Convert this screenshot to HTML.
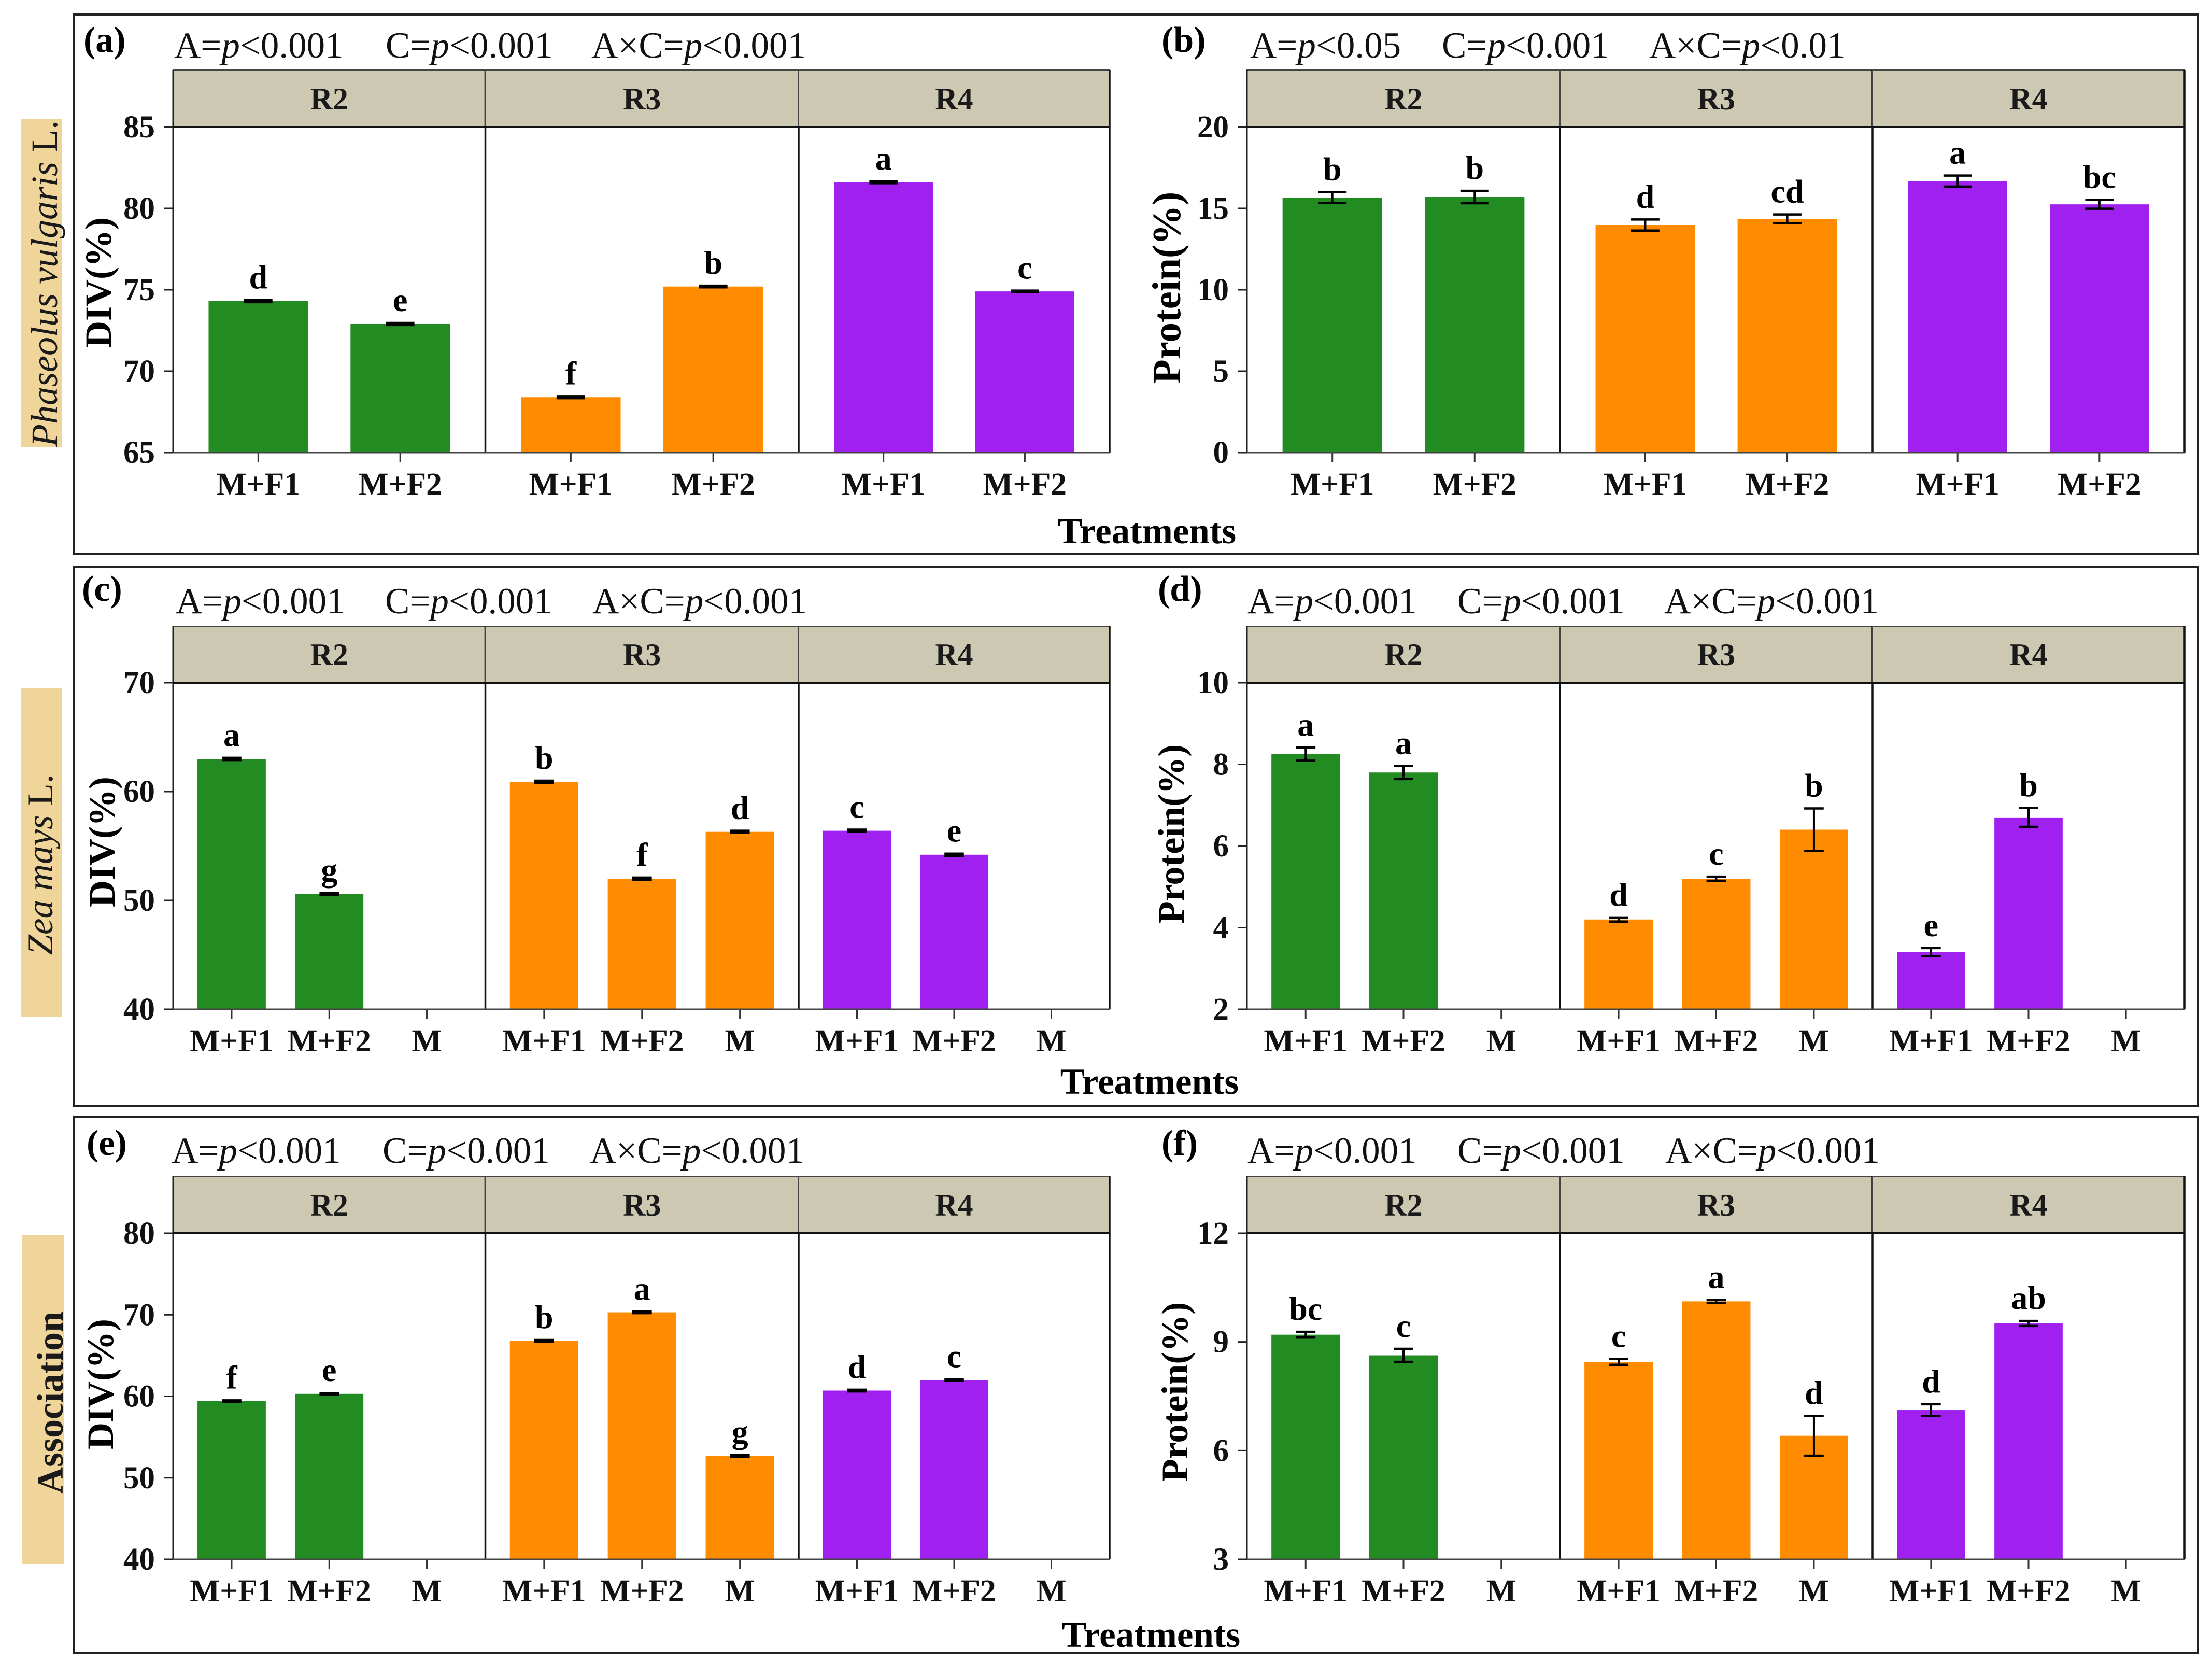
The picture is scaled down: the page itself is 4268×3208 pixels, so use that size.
<!DOCTYPE html>
<html lang="en">
<head>
<meta charset="utf-8">
<title>DIV and protein by treatment</title>
<style>
html,body{margin:0;padding:0;background:#fff;}
body{width:4268px;height:3208px;overflow:hidden;}
svg{display:block;font-family:"Liberation Serif",serif;}
</style>
</head>
<body>
<svg id="figure" xmlns="http://www.w3.org/2000/svg" width="4268" height="3208" viewBox="0 0 4268 3208">
  <rect x="0" y="0" width="4268" height="3208" fill="#ffffff"/>
  <rect x="142" y="28" width="4099" height="1041" fill="none" stroke="#222" stroke-width="4"/>
  <rect x="142" y="1094" width="4099" height="1040" fill="none" stroke="#222" stroke-width="4"/>
  <rect x="142" y="2155" width="4099" height="1034" fill="none" stroke="#222" stroke-width="4"/>

  <rect x="40" y="230" width="80" height="633" fill="#f0d59b"/>
  <text transform="translate(110,547) rotate(-90)" text-anchor="middle" font-size="72" fill="#1a1a1a"><tspan font-style="italic">Phaseolus vulgaris</tspan> L.</text>
  <rect x="40" y="1328" width="80" height="634" fill="#f0d59b"/>
  <text transform="translate(101,1668) rotate(-90)" text-anchor="middle" font-size="71" fill="#1a1a1a"><tspan font-style="italic">Zea mays</tspan> L.</text>
  <rect x="42" y="2383" width="81" height="634" fill="#f0d59b"/>
  <text transform="translate(121,2706) rotate(-90)" text-anchor="middle" font-size="72" font-weight="bold" fill="#1a1a1a">Association</text>

  <text x="2213" y="1048" text-anchor="middle" font-size="71" font-weight="bold" fill="#000">Treatments</text>
  <text x="2218" y="2110" text-anchor="middle" font-size="71" font-weight="bold" fill="#000">Treatments</text>
  <text x="2221" y="3177" text-anchor="middle" font-size="71" font-weight="bold" fill="#000">Treatments</text>
</svg>
<script>
// ---- chart data ----
const facetNames = ['R2', 'R3', 'R4'];
const categoriesTwo = ['M+F1', 'M+F2'];
const categoriesThree = ['M+F1', 'M+F2', 'M'];

const ticksA = [65, 70, 75, 80, 85];
const valuesA = [[74.3, 72.9], [68.4, 75.2], [81.6, 74.9]];
const errorsA = [[0.06, 0.06], [0.06, 0.05], [0.05, 0.05]];
const lettersA = [['d', 'e'], ['f', 'b'], ['a', 'c']];

const ticksB = [0, 5, 10, 15, 20];
const valuesB = [[15.67, 15.7], [13.98, 14.36], [16.68, 15.25]];
const errorsB = [[0.33, 0.38], [0.34, 0.27], [0.34, 0.27]];
const lettersB = [['b', 'b'], ['d', 'cd'], ['a', 'bc']];

const ticksC = [40, 50, 60, 70];
const valuesC = [[63, 50.6, null], [60.9, 52, 56.3], [56.4, 54.2, null]];
const errorsC = [[0.1, 0.1, 0], [0.1, 0.1, 0.1], [0.1, 0.1, 0]];
const lettersC = [['a', 'g', ''], ['b', 'f', 'd'], ['c', 'e', '']];

const ticksD = [2, 4, 6, 8, 10];
const valuesD = [[8.25, 7.8, null], [4.2, 5.2, 6.4], [3.4, 6.7, null]];
const errorsD = [[0.16, 0.16, 0], [0.05, 0.05, 0.52], [0.1, 0.23, 0]];
const lettersD = [['a', 'a', ''], ['d', 'c', 'b'], ['e', 'b', '']];

const ticksE = [40, 50, 60, 70, 80];
const valuesE = [[59.4, 60.3, null], [66.8, 70.3, 52.7], [60.7, 62, null]];
const errorsE = [[0.1, 0.1, 0], [0.1, 0.1, 0.1], [0.1, 0.1, 0]];
const lettersE = [['f', 'e', ''], ['b', 'a', 'g'], ['d', 'c', '']];

const ticksF = [3, 6, 9, 12];
const valuesF = [[9.2, 8.63, null], [8.45, 10.12, 6.41], [7.12, 9.51, null]];
const errorsF = [[0.08, 0.18, 0], [0.08, 0.04, 0.55], [0.16, 0.07, 0]];
const lettersF = [['bc', 'c', ''], ['c', 'a', 'd'], ['d', 'ab', '']];

const facetColors = ['#228B22', '#FF8C00', '#A020F0'];

const svg = document.getElementById('figure');
const NS = 'http://www.w3.org/2000/svg';

function make(tag, attrs, text) {
  const node = document.createElementNS(NS, tag);
  for (const k in attrs) node.setAttribute(k, attrs[k]);
  if (text !== undefined) node.textContent = text;
  svg.appendChild(node);
  return node;
}

function statText(x, y, prefix, suffix, name) {
  const el = make('text', {x: x, y: y, 'font-size': 71, fill: '#111'});
  
  
  el.appendChild(document.createTextNode(prefix));
  const it = document.createElementNS(NS, 'tspan');
  it.setAttribute('font-style', 'italic');
  it.textContent = 'p';
  el.appendChild(it);
  el.appendChild(document.createTextNode(suffix));
}

function drawPanel(p) {
  const yMin = p.ticks[0];
  const yMax = p.ticks[p.ticks.length - 1];
  const yScale = v => p.bottom - (v - yMin) / (yMax - yMin) * (p.bottom - p.top);
  const cats = p.categories;
  const facetEdges = p.edges;

  facetNames.forEach((name, f) => {
    const left = facetEdges[f];
    const right = facetEdges[f + 1];
    const step = (right - left) / (cats.length - 1 + 1.2);
    const xScale = i => left + (0.6 + i) * step;

    const strip = make('rect', {x: left, y: p.stripTop, width: right - left, height: p.top - p.stripTop, fill: '#CDC8B1', stroke: '#444', 'stroke-width': 2});
    
    
    const stripLabel = make('text', {x: (left + right) / 2, y: p.top - 34, 'text-anchor': 'middle', 'font-size': 60, 'font-weight': 'bold', fill: '#1a1a1a'}, name);
    
    

    cats.forEach((cat, i) => {
      const tick = make('line', {x1: xScale(i), x2: xScale(i), y1: p.bottom, y2: p.bottom + 19, stroke: '#333', 'stroke-width': 3});
      
      
      const label = make('text', {x: xScale(i), y: p.bottom + 81, 'text-anchor': 'middle', 'font-size': 61.5, 'font-weight': 'bold', fill: '#111'}, cat);
      
      

      const value = p.values[f][i];
      if (value === null) return;
      const barW = step * 0.7;
      const bar = make('rect', {x: xScale(i) - barW / 2, y: yScale(value), width: barW, height: p.bottom - yScale(value), fill: facetColors[f]});
      
      

      const err = p.errors[f][i];
      const capW = step * 0.2;
      const errTop = yScale(value + err);
      const errBot = yScale(value - err);
      const stem = make('line', {x1: xScale(i), x2: xScale(i), y1: errTop, y2: errBot, stroke: '#000', 'stroke-width': 4});
      
      
      const capT = make('line', {x1: xScale(i) - capW / 2, x2: xScale(i) + capW / 2, y1: errTop, y2: errTop, stroke: '#000', 'stroke-width': 4.5});
      
      
      const capB = make('line', {x1: xScale(i) - capW / 2, x2: xScale(i) + capW / 2, y1: errBot, y2: errBot, stroke: '#000', 'stroke-width': 4.5});
      
      

      const sig = make('text', {x: xScale(i), y: errTop - 23, 'text-anchor': 'middle', 'font-size': 64, 'font-weight': 'bold', fill: '#000'}, p.letters[f][i]);
      
      
    });

    const divider = make('line', {x1: right, x2: right, y1: p.stripTop, y2: p.bottom, stroke: '#111', 'stroke-width': 3.5});
    
    
  });

  const plotL = facetEdges[0];
  const plotR = facetEdges[facetEdges.length - 1];
  const leftAxis = make('line', {x1: plotL, x2: plotL, y1: p.stripTop, y2: p.bottom, stroke: '#222', 'stroke-width': 3});
  
  
  const topLine = make('line', {x1: plotL, x2: plotR, y1: p.top, y2: p.top, stroke: '#111', 'stroke-width': 4});
  
  
  const baseLine = make('line', {x1: plotL, x2: plotR, y1: p.bottom, y2: p.bottom, stroke: '#444', 'stroke-width': 3});
  
  

  p.ticks.forEach(t => {
    const tick = make('line', {x1: plotL - 18, x2: plotL, y1: yScale(t), y2: yScale(t), stroke: '#222', 'stroke-width': 3});
    
    
    const label = make('text', {x: plotL - 35, y: yScale(t) + 20, 'text-anchor': 'end', 'font-size': 61, 'font-weight': 'bold', fill: '#111'}, String(t));
    
    
  });

  const yTitle = make('text', {transform: 'translate(' + p.yTitleX + ',' + p.yTitleY + ') rotate(-90)', 'text-anchor': 'middle', 'font-size': p.yTitleSize, 'font-weight': 'bold', fill: '#000'}, p.yTitle);
  
  

  const tag = make('text', {x: p.tagX, y: p.tagY, 'font-size': 70, 'font-weight': 'bold', fill: '#000'}, '(' + p.id + ')');
  
  

  statText(p.statX[0], p.statY, 'A=', p.stats[0], 'anova-factor-a-' + p.id);
  statText(p.statX[1], p.statY, 'C=', p.stats[1], 'anova-factor-c-' + p.id);
  statText(p.statX[2], p.statY, 'A\u00D7C=', p.stats[2], 'anova-interaction-' + p.id);
}

const leftEdges = [334, 936.5, 1541, 2141];
const rightEdges = [2406, 3010, 3613, 4215];

drawPanel({id: 'a', ticks: ticksA, values: valuesA, errors: errorsA, letters: lettersA, categories: categoriesTwo, edges: leftEdges,
  stripTop: 135, top: 245, bottom: 873, yTitle: 'DIV(%)', yTitleSize: 72, yTitleX: 214, yTitleY: 545, tagX: 161, tagY: 100,
  statX: [336, 744, 1141], statY: 111, stats: ['<0.001', '<0.001', '<0.001']});
drawPanel({id: 'b', ticks: ticksB, values: valuesB, errors: errorsB, letters: lettersB, categories: categoriesTwo, edges: rightEdges,
  stripTop: 135, top: 245, bottom: 873, yTitle: 'Protein(%)', yTitleSize: 77, yTitleX: 2277, yTitleY: 555, tagX: 2241, tagY: 100,
  statX: [2412, 2782, 3182], statY: 111, stats: ['<0.05', '<0.001', '<0.01']});
drawPanel({id: 'c', ticks: ticksC, values: valuesC, errors: errorsC, letters: lettersC, categories: categoriesThree, edges: leftEdges,
  stripTop: 1208, top: 1317, bottom: 1947, yTitle: 'DIV(%)', yTitleSize: 72, yTitleX: 221, yTitleY: 1624, tagX: 158, tagY: 1159,
  statX: [339, 743, 1143], statY: 1183, stats: ['<0.001', '<0.001', '<0.001']});
drawPanel({id: 'd', ticks: ticksD, values: valuesD, errors: errorsD, letters: lettersD, categories: categoriesThree, edges: rightEdges,
  stripTop: 1208, top: 1317, bottom: 1947, yTitle: 'Protein(%)', yTitleSize: 72, yTitleX: 2284, yTitleY: 1609, tagX: 2234, tagY: 1159,
  statX: [2407, 2812, 3211], statY: 1183, stats: ['<0.001', '<0.001', '<0.001']});
drawPanel({id: 'e', ticks: ticksE, values: valuesE, errors: errorsE, letters: lettersE, categories: categoriesThree, edges: leftEdges,
  stripTop: 2269, top: 2379, bottom: 3008, yTitle: 'DIV(%)', yTitleSize: 72, yTitleX: 218, yTitleY: 2670, tagX: 167, tagY: 2228,
  statX: [331, 738, 1138], statY: 2243, stats: ['<0.001', '<0.001', '<0.001']});
drawPanel({id: 'f', ticks: ticksF, values: valuesF, errors: errorsF, letters: lettersF, categories: categoriesThree, edges: rightEdges,
  stripTop: 2269, top: 2379, bottom: 3008, yTitle: 'Protein(%)', yTitleSize: 72, yTitleX: 2291, yTitleY: 2685, tagX: 2241, tagY: 2228,
  statX: [2407, 2812, 3213], statY: 2243, stats: ['<0.001', '<0.001', '<0.001']});
</script>
</body>
</html>
